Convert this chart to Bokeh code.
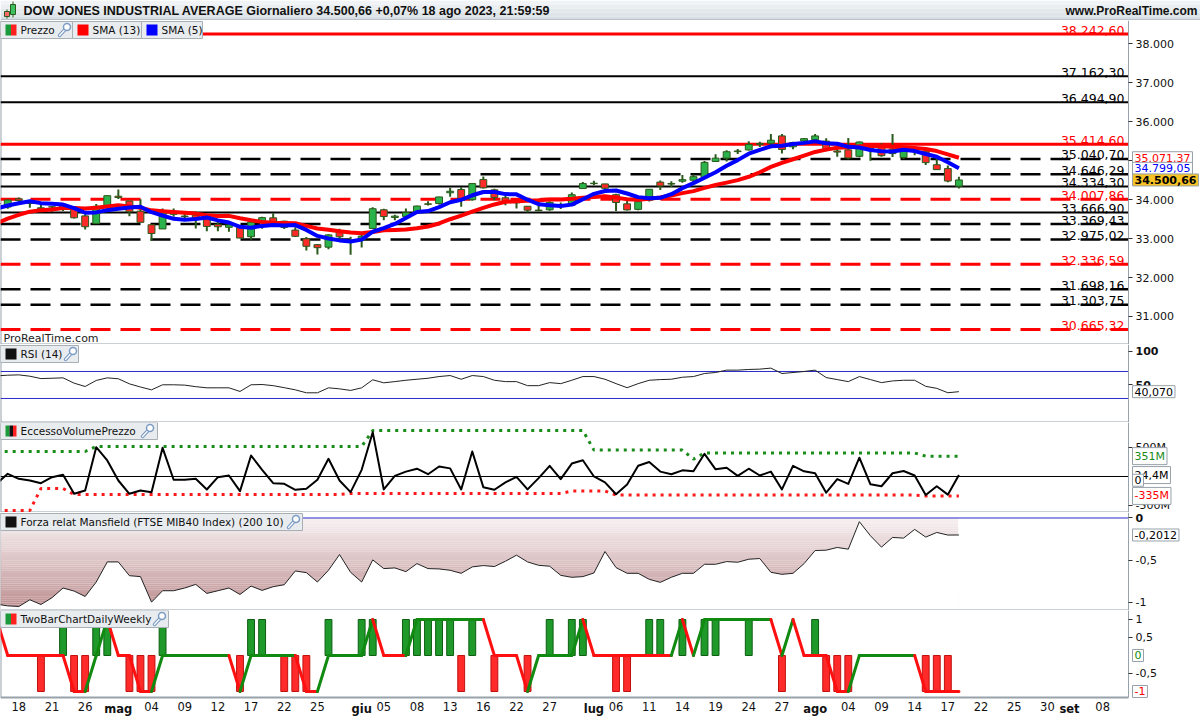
from bokeh.plotting import figure
from bokeh.layouts import column
from bokeh.models import Range1d, FixedTicker, LinearAxis, Label
from bokeh.embed import file_html
from bokeh.resources import INLINE
from bokeh.core.properties import value

# ------------------------------------------------------------------ DATA
dates = ["14/04", "17/04", "18/04", "19/04", "20/04", "21/04", "24/04", "25/04", "26/04", "27/04", "28/04",
         "01/05", "02/05", "03/05", "04/05", "05/05", "08/05", "09/05", "10/05", "11/05", "12/05", "15/05",
         "16/05", "17/05", "18/05", "19/05", "22/05", "23/05", "24/05", "25/05", "26/05", "30/05", "31/05",
         "01/06", "02/06", "05/06", "06/06", "07/06", "08/06", "09/06", "12/06", "13/06", "14/06", "15/06",
         "16/06", "20/06", "21/06", "22/06", "23/06", "26/06", "27/06", "28/06", "29/06", "30/06",
         "03/07", "05/07", "06/07", "07/07", "10/07", "11/07", "12/07", "13/07", "14/07", "17/07", "18/07",
         "19/07", "20/07", "21/07", "24/07", "25/07", "26/07", "27/07", "28/07", "31/07",
         "01/08", "02/08", "03/08", "04/08", "07/08", "08/08", "09/08", "10/08", "11/08", "14/08", "15/08",
         "16/08", "17/08", "18/08"]

opens = [33897, 33806, 34019, 33905, 33766, 33811, 33793, 33785, 33580, 33381, 33797,
         34085, 33962, 33701, 33353, 33245, 33679, 33575, 33597, 33505, 33363, 33287, 33280, 33046, 33406,
         33530, 33444, 33216, 32992, 32842, 32778, 33184, 32906,
         32951, 33257, 33736, 33539, 33567, 33667, 33888, 33899, 34172, 34256, 33994, 34510, 34247, 34043,
         33915, 33827, 33729, 33736, 33869, 33853, 34281,
         34407, 34400, 34123, 33889, 33747, 33981, 34446, 34411, 34470, 34494, 34559, 34976, 35061, 35244,
         35271, 35416, 35443, 35631, 35351, 35501,
         35535, 35497, 35244, 35273, 35108, 35312, 35370, 35295, 35077, 35246, 35239, 34891, 34792, 34341]
highs = [34082, 33999, 34050, 33940, 33916, 33825, 33909, 33785, 33620, 33884, 34104,
         34257, 33962, 34004, 33361, 33770, 33771, 33677, 33695, 33519, 33476, 33410, 33308, 33476, 33559,
         33647, 33452, 33289, 33038, 32860, 33111, 33247, 33042,
         33138, 33803, 33761, 33611, 33771, 33839, 33958, 34070, 34302, 34311, 34425, 34588, 34278, 34103,
         33958, 33828, 33944, 33953, 33922, 34182, 34450,
         34479, 34406, 34147, 34001, 33972, 34267, 34486, 34469, 34630, 34638, 34987, 35160, 35262, 35293,
         35493, 35480, 35679, 35679, 35482, 35579,
         35680, 35573, 35350, 35579, 35486, 35337, 35440, 35679, 35332, 35355, 35239, 35050, 34869, 34584]
lows = [33670, 33766, 33864, 33789, 33690, 33679, 33706, 33516, 33233, 33381, 33728,
        34014, 33571, 33411, 32937, 33245, 33556, 33508, 33255, 33186, 33185, 33172, 33008, 32970, 33249,
        33303, 33242, 33037, 32692, 32587, 32724, 32956, 32586,
        32767, 33257, 33470, 33465, 33544, 33639, 33849, 33869, 34072, 33816, 33965, 34280, 33980, 33850,
        33772, 33664, 33698, 33713, 33755, 33852, 34281,
        34367, 34226, 33705, 33719, 33723, 33950, 34242, 34319, 34429, 34449, 34540, 34959, 34972, 35168,
        35256, 35347, 35317, 35181, 35287, 35423,
        35487, 35239, 35094, 35031, 35083, 34992, 35094, 35093, 35037, 35134, 34883, 34761, 34443, 34281]
closes = [33886, 33987, 33977, 33897, 33787, 33809, 33876, 33531, 33302, 33827, 34098,
          34051, 33684, 33415, 33128, 33674, 33619, 33562, 33531, 33309, 33301, 33349, 33012, 33420, 33535,
          33427, 33286, 33056, 32800, 32765, 33093, 33043, 32908,
          33061, 33763, 33563, 33573, 33665, 33833, 33877, 34066, 34212, 33979, 34408, 34299, 34053, 33951,
          33947, 33727, 33714, 33927, 33853, 34122, 34408,
          34418, 34288, 33922, 33734, 33944, 34262, 34347, 34395, 34509, 34585, 34952, 35061, 35225, 35228,
          35411, 35438, 35520, 35283, 35459, 35560,
          35630, 35283, 35216, 35066, 35474, 35315, 35124, 35177, 35281, 35308, 34946, 34766, 34474, 34501]

sma13 = [33388.5, 33511.1, 33608.0, 33687.8, 33727.3, 33743.3, 33779.7, 33783.4, 33769.3, 33787.8,
         33819.5, 33850.6, 33824.0, 33787.8, 33721.7, 33698.4, 33677.0, 33659.7, 33638.3, 33594.7,
         33577.0, 33580.6, 33517.9, 33465.8, 33426.1, 33406.3, 33396.4, 33390.8, 33323.6, 33257.9,
         33221.8, 33184.3, 33153.5, 33135.0, 33166.8, 33209.2, 33221.0, 33231.0, 33262.2, 33307.7,
         33385.4, 33494.0, 33587.4, 33688.5, 33785.2, 33873.2, 33941.7, 33955.8, 33968.5, 33979.3,
         33999.5, 34001.0, 34019.8, 34046.2, 34062.0, 34085.8, 34048.4, 34004.9, 33996.5, 34020.5,
         34051.2, 34102.6, 34163.8, 34214.4, 34299.0, 34371.2, 34434.0, 34496.3, 34582.7, 34699.3,
         34836.7, 34939.7, 35031.8, 35125.1, 35220.1, 35279.6, 35328.2, 35336.9, 35368.7, 35375.6,
         35367.6, 35349.6, 35337.5, 35321.2, 35295.3, 35242.0, 35158.5, 35071.4]
sma5 = [33767.0, 33847.0, 33905.4, 33955.4, 33906.8, 33891.4, 33869.2, 33780.0, 33661.0, 33669.0,
        33726.8, 33761.8, 33792.4, 33815.0, 33675.2, 33590.4, 33504.0, 33479.6, 33502.8, 33539.0,
        33464.4, 33410.4, 33300.4, 33278.2, 33323.4, 33348.6, 33336.0, 33344.8, 33220.8, 33066.8,
        33000.0, 32951.4, 32921.8, 32974.0, 33173.6, 33267.6, 33373.6, 33525.0, 33679.4, 33702.2,
        33802.8, 33930.6, 33993.4, 34108.4, 34192.8, 34190.2, 34138.0, 34131.6, 33995.4, 33878.4,
        33853.2, 33833.6, 33868.6, 34004.8, 34145.6, 34217.8, 34231.6, 34154.0, 34061.2, 34030.0,
        34041.8, 34136.4, 34291.4, 34419.6, 34557.6, 34700.4, 34866.4, 35010.2, 35175.4, 35272.6,
        35364.4, 35376.0, 35422.2, 35452.0, 35490.4, 35443.0, 35429.6, 35351.0, 35333.8, 35270.8,
        35239.0, 35231.2, 35274.2, 35241.0, 35167.2, 35095.6, 34955.0, 34799.0]

rsi14 = [63.5, 64.5, 65.0, 63.0, 59.5, 60.0, 60.6, 52.7, 47.8, 56.7, 60.6, 59.2, 51.7, 47.0, 42.8, 50.3,
         50.3, 49.8, 47.5, 45.8, 45.8, 45.8, 40.4, 50.3, 50.7, 49.0, 46.0, 42.8, 38.4, 38.4, 45.8, 44.3,
         41.9, 45.8, 57.7, 53.2, 55.0,
         57.0, 58.5, 60.0, 62.5, 64.0, 58.5, 64.0, 62.5, 57.0, 55.0, 55.0, 49.0, 49.0, 53.5, 52.0, 57.0,
         62.5, 62.5, 58.5, 52.0, 46.0, 52.0, 57.0, 58.0, 58.5, 61.5, 62.5, 67.0, 68.5, 72.0, 72.0, 73.0,
         73.5, 75.0, 67.0, 68.5, 70.0, 72.0, 61.0, 58.0, 55.0, 62.5, 58.0, 53.5, 56.0, 57.0, 57.0, 48.0,
         45.0, 38.5, 40.07]

evp_osc = [-120, 46, -40, -69, -115, -12, 29, -299, -241, 505, 276, -69, -299, -241, -270, 494, -57, -57,
           -40, -224, -12, 17, -253, 362, 115, -115, -126, -229, -212, -57, 305, -69, -270, 115, 764, -224,
           11,
           84, 134, 39, 173, 140, -223, 430, -184, -229, -101, -6, -223, -28, 184, -45, 223, 279, 0, -101,
           -307, -140, 184, 251, 84, 39, 106, 89, 391, 123, 151, 11, 134, 17, 84, -223, 184, 89, 56, -279,
           -45, -128, 324, -134, -168, 56, 95, 17, -318, -168, -313, 24.4]
evp_upper = [431, 431, 431, 431, 431, 431, 431, 431, 431,
             517, 517, 517, 517, 517, 517, 517, 517, 517, 517, 517, 517, 517, 517, 517, 517, 517, 517, 517,
             517, 517, 517, 517, 517, 517,
             793, 793, 793, 793, 793, 793, 793, 793, 793, 793, 793, 793, 793, 793, 793, 793, 793, 793, 793, 793,
             455, 455, 455, 455, 455, 455, 455, 455, 455,
             300,
             405, 405, 405, 405, 405, 405, 405, 405, 405, 405, 405, 405, 405, 405, 405, 405, 405, 405, 405, 405,
             351, 351, 351, 351]
evp_lower = [-586, -586, -586, -586, -207, -207, -207,
             -310, -310, -310, -310, -310, -310, -310, -310, -310, -310, -310, -310, -310, -310, -310, -310,
             -310, -310, -310, -310, -310, -310, -310, -310, -310,
             -293, -293, -293, -293, -293, -293, -293, -293, -293, -293, -293, -293, -293, -293, -293, -293,
             -293, -293, -293, -293,
             -250, -250, -250, -250,
             -320, -320, -320, -320, -320, -320, -320, -320, -320, -320, -320, -320, -320, -320, -320, -320,
             -320, -320, -320, -320, -320, -320, -320, -320, -320, -320, -320, -320,
             -335, -335, -335, -335]

mansfield = [-1.02, -1.04, -1.048, -0.968, -1.024, -0.944, -0.829, -0.865, -0.929, -0.758, -0.520, -0.520,
             -0.683, -0.694, -0.996, -0.861, -0.861, -0.829, -0.786, -0.893, -0.861, -0.829, -0.905, -0.806,
             -0.857, -0.813, -0.790, -0.627, -0.647, -0.758, -0.619, -0.433, -0.643, -0.758, -0.496, -0.599,
             -0.591, -0.635, -0.540, -0.599, -0.603, -0.619, -0.655, -0.579, -0.563, -0.575,
             -0.512, -0.440, -0.520, -0.560, -0.571, -0.679, -0.702, -0.694, -0.651, -0.397, -0.587, -0.655,
             -0.655, -0.726, -0.762, -0.702, -0.655, -0.655, -0.548, -0.548, -0.516, -0.524, -0.488, -0.480,
             -0.643, -0.667, -0.655, -0.540, -0.385, -0.381, -0.349, -0.369, -0.044, -0.210, -0.345, -0.230,
             -0.238, -0.135, -0.226, -0.171, -0.202, -0.2012]

tb_line = [1, 0, 0, 0, 0, 0, 0, -1, -1, 0,
           1, 0, 0, -1, -1, 0, 0, 0, 0, 0,
           0, 0, -1, 0, 0, 0, 0, 0, -1, -1,
           0, 0, 0, 0, 1, 0, 0, 0, 1, 1,
           1, 1, 1, 1, 1, 0, 0, 0, -1, 0,
           0, 0, 0, 1, 0, 0, 0, 0, 0, 0,
           0, 0, 1, 0, 1, 1, 1, 1, 1, 1,
           1, 0, 1, 0, 0, 0, -1, -1, 0, 0,
           0, 0, 0, 0, -1, -1, -1, -1]
tb_state = ("rrrrrrrrrg" "grrrrggggg" "ggrgggggrr" "gggggrrrgg" "gggggrrrrg"
            "ggggrrrrrr" "rrgrgggggg" "grgrrrrrgg" "ggggrrrr")
tb_green_days = [4, 7, 8, 13, 21, 22, 28, 31, 32, 35, 36, 37, 38, 39, 41, 48, 50, 51, 57, 58, 60, 62, 63,
                 66, 72]
tb_red_days = [2, 5, 6, 10, 11, 12, 20, 24, 25, 26, 40, 43, 46, 54, 55, 69, 73, 74, 75, 82, 83, 84]

levels = [38242.60, 37162.30, 36494.90, 35414.60, 35040.70, 34646.29, 34334.30, 34007.86, 33666.90,
          33369.43, 32975.02, 32336.59, 31698.16, 31303.75, 30665.32]
level_labels = ["38.242,60", "37.162,30", "36.494,90", "35.414,60", "35.040,70", "34.646,29", "34.334,30",
                "34.007,86", "33.666,90", "33.369,43", "32.975,02", "32.336,59", "31.698,16", "31.303,75",
                "30.665,32"]
level_kind = ["rs", "ks", "ks", "rs", "kd", "kd", "ks", "rd", "ks", "kd", "kd", "rd", "kd", "kd", "rd"]

price_ticks = [31000, 32000, 33000, 34000, 35000, 36000, 37000, 38000]
price_tick_labels = ["31.000", "32.000", "33.000", "34.000", "35.000", "36.000", "37.000", "38.000"]

xtick_pos = [0, 3, 6, 12, 15, 18, 21, 24, 27, 33, 36, 39, 42, 45, 48, 54, 57, 60, 63, 66, 69, 75, 78, 81,
             84, 87, 90, 93, 98]
xtick_labels = ["18", "21", "26", "04", "09", "12", "17", "22", "25", "05", "08", "13", "16", "22", "27",
                "06", "11", "14", "19", "24", "27", "04", "09", "14", "17", "22", "25", "30", "08"]
month_pos = [9, 31, 52, 72, 95]
month_labels = ["mag", "giu", "lug", "ago", "set"]

title_text = "DOW JONES INDUSTRIAL AVERAGE Giornaliero 34.500,66 +0,07% 18 ago 2023, 21:59:59"

N = len(dates)
for arr in (opens, highs, lows, closes, sma13, sma5, rsi14, evp_osc, evp_upper, evp_lower, mansfield,
            tb_line, tb_state):
    assert len(arr) == N, len(arr)
xs = [i - 2 for i in range(N)]

# ------------------------------------------------------------------ LAYOUT
FONT = "DejaVu Sans"
TW = 1200            # total width
AX = 1128            # x pixel of the right axis line
PXD = 11.06          # pixels per trading day
X0 = -18.3 / PXD     # data x at left edge
X1 = X0 + AX / PXD   # data x at the axis line
XE = X0 + TW / PXD   # data x at right edge of page
XR = Range1d(X0, XE)
GRAYLINE = "#98a2aa"
YR = {}


def fig(fh, ylo, yhi, panel_bottom=None):
    p = figure(frame_width=TW, frame_height=fh, x_range=XR, y_range=Range1d(ylo, yhi),
               output_backend="svg", toolbar_location=None,
               x_axis_location=None, y_axis_location=None,
               min_border_left=0, min_border_right=0, min_border_top=0, min_border_bottom=0,
               outline_line_color=None, background_fill_color="white", border_fill_color="white")
    p.xgrid.visible = False
    p.ygrid.visible = False
    YR[p.id] = (ylo, yhi, fh)
    pb = ylo if panel_bottom is None else panel_bottom
    p.segment(x0=[X0, X0], y0=[pb, pb], x1=[X1, X0], y1=[pb, yhi], line_color=GRAYLINE, line_width=2)
    return p


def pxx(px):
    return X0 + px / PXD


def pxy(p, py):
    ylo, yhi, fh = YR[p.id]
    return yhi - py * (yhi - ylo) / fh


def raxis(p, ticks, labels, bold=False, line=True):
    ax = LinearAxis(fixed_location=X1, ticker=FixedTicker(ticks=ticks),
                    major_label_overrides=dict(zip(ticks, labels)),
                    axis_line_color=GRAYLINE if line else None, axis_line_width=1,
                    major_tick_line_color="#333333",
                    major_tick_in=0, major_tick_out=4, minor_tick_line_color=None,
                    major_label_standoff=3, major_label_text_font=FONT,
                    major_label_text_font_size="11px", major_label_text_color="#111111",
                    major_label_text_font_style="bold" if bold else "normal")
    p.add_layout(ax, "right")


def tag(p, yv, text, color="black", bg="white", bold=False):
    p.add_layout(Label(x=X1, y=yv, x_offset=4, text=text, text_font=FONT, text_font_size="11px",
                       text_color=color, text_baseline="middle", text_align="left",
                       background_fill_color=bg, border_line_color="#97a1a9", padding=2,
                       text_font_style="bold" if bold else "normal"))


def wrench(p, px, top):
    p.segment(x0=[pxx(px + 2)], y0=[pxy(p, top + 14)], x1=[pxx(px + 8)], y1=[pxy(p, top + 7.5)],
              line_color="#7d9cc4", line_width=3.5, line_cap="round")
    p.segment(x0=[pxx(px + 2)], y0=[pxy(p, top + 14)], x1=[pxx(px + 8)], y1=[pxy(p, top + 7.5)],
              line_color="#ffffff", line_width=1.2, line_cap="round")
    p.scatter(x=[pxx(px + 9.5)], y=[pxy(p, top + 5.5)], size=7, marker="circle",
              fill_color="#ffffff", line_color="#7d9cc4", line_width=1.5)


def legend(p, segs, top=1, h=17):
    for (l, r, squares, text, tx, wx) in segs:
        p.quad(left=[pxx(l)], right=[pxx(r)], top=[pxy(p, top)], bottom=[pxy(p, top + h)],
               fill_color="#e8ecef", line_color="#a7b0b7", line_width=1)
        for (sl, sr, col) in squares:
            p.quad(left=[pxx(sl)], right=[pxx(sr)], top=[pxy(p, top + 3)], bottom=[pxy(p, top + h - 3)],
                   fill_color=col, line_color=None)
        p.text(x=[pxx(tx)], y=[pxy(p, top + h / 2)], text=[text], text_baseline="middle",
               text_font=value(FONT), text_font_size="10.5px", text_color="#111111")
        if wx is not None:
            wrench(p, wx, top)


# ---------------- header
ph = figure(frame_width=TW, frame_height=20, x_range=Range1d(0, TW), y_range=Range1d(20, 0),
            output_backend="svg", toolbar_location=None, x_axis_location=None, y_axis_location=None,
            min_border_left=0, min_border_right=0, min_border_top=0, min_border_bottom=0,
            outline_line_color=None, border_fill_color="white")
ph.xgrid.visible = False
ph.ygrid.visible = False
band_cols = ["#f1f4f6", "#eaeef1", "#e4e9ec", "#dee4e8", "#d8dfe4"]
ph.quad(left=[0] * 5, right=[TW] * 5, top=[0, 4, 8, 12, 16], bottom=[4, 8, 12, 16, 20],
        fill_color=band_cols, line_color=None)
ph.segment(x0=[0], y0=[19.5], x1=[TW], y1=[19.5], line_color=GRAYLINE)
ph.segment(x0=[6.5, 12.5], y0=[9, 1], x1=[6.5, 12.5], y1=[18, 17], line_color="#2a5e1e", line_width=1)
ph.quad(left=[4, 10], right=[9, 15], top=[11, 4], bottom=[16, 14], fill_color=["#ff6a6a", "#3cc060"],
        line_color="#2a5e1e")
ph.text(x=[23], y=[10.5], text=[title_text], text_baseline="middle", text_font=value("Liberation Sans"),
        text_font_style="bold", text_font_size="12.5px", text_color="#111111")
ph.text(x=[TW - 3], y=[10.5], text=["www.ProRealTime.com"], text_baseline="middle", text_align="right",
        text_font=value("Liberation Sans"), text_font_style="bold", text_font_size="12px",
        text_color="#111111")

# ---------------- price panel  (y 20..344)
pp = fig(324, 30282, 38590)
kinds = {"rs": ("#ff0000", 3, "solid"), "rd": ("#ff0000", 3, "20 10"),
         "ks": ("#000000", 2, "solid"), "kd": ("#000000", 2.5, "20 10")}
for k, (col, lw, dash) in kinds.items():
    ys = [lv for lv, kk in zip(levels, level_kind) if kk == k]
    pp.segment(x0=[X0] * len(ys), y0=ys, x1=[X1] * len(ys), y1=ys, line_color=col, line_width=lw,
               line_dash=dash)

WICK = "#2a5a1c"
pp.segment(x0=xs, y0=lows, x1=xs, y1=highs, line_color=WICK, line_width=2)
up = [i for i in range(N) if closes[i] >= opens[i]]
dn = [i for i in range(N) if closes[i] < opens[i]]
pp.vbar(x=[xs[i] for i in up], top=[closes[i] for i in up], bottom=[opens[i] for i in up], width=0.62,
        fill_color="#2bb34b", line_color=WICK, line_width=1)
pp.vbar(x=[xs[i] for i in dn], top=[opens[i] for i in dn], bottom=[closes[i] for i in dn], width=0.62,
        fill_color="#ff2a2a", line_color=WICK, line_width=1)
pp.line(xs, sma13, line_color="#ff0000", line_width=4, line_join="round")
pp.line(xs, sma5, line_color="#0000ff", line_width=4, line_join="round")

lab_cols = ["#ff0000" if k[0] == "r" else "#000000" for k in level_kind]
pp.text(x=[X1] * len(levels), y=levels, text=level_labels, text_align="right", text_baseline="alphabetic",
        x_offset=-4, y_offset=-4, text_font=value(FONT), text_font_size="12.5px", text_color=lab_cols)
pp.text(x=[pxx(3)], y=[pxy(pp, 318)], text=["ProRealTime.com"], text_baseline="middle",
        text_font=value(FONT), text_font_size="11px", text_color="#222222")
legend(pp, [(0, 72, [(5, 10.5, "#1a9a3a"), (10.5, 16, "#ff2020")], "Prezzo", 20, 57),
            (72, 141, [(77, 88, "#ff0000")], "SMA (13)", 92, None),
            (141, 202, [(146, 157, "#0000ff")], "SMA (5)", 161, None)])
raxis(pp, price_ticks, price_tick_labels)
tag(pp, 35071.37, "35.071,37", color="#ff0000")
tag(pp, 34799.05, "34.799,05", color="#0000ff")
tag(pp, 34500.66, "34.500,66", color="black", bg="#f7c325", bold=True)

# ---------------- RSI panel  (y 344..422)
pr = fig(78, -5.6, 110)
pr.segment(x0=[X0, X0], y0=[70, 30], x1=[X1, X1], y1=[70, 30], line_color="#2b2bcc", line_width=1)
pr.line(xs, rsi14, line_color="#222222", line_width=1)
legend(pr, [(0, 78, [(5, 16, "#111111")], "RSI (14)", 20, 63)])
raxis(pr, [50, 100], ["50", "100"], bold=True)
tag(pr, 40.07, "40,070")

# ---------------- Volume excess panel  (y 422..512)
pv = fig(90, -621, 931)
pv.segment(x0=[X0], y0=[0], x1=[X1], y1=[0], line_color="#000000", line_width=1)
pv.line(xs, evp_upper, line_color="#1a8c1a", line_width=3, line_dash="3 5")
pv.line(xs, evp_lower, line_color="#ff1a1a", line_width=3, line_dash="3 5")
pv.line(xs, evp_osc, line_color="#000000", line_width=2, line_join="round")
legend(pv, [(0, 157, [(5, 9, "#1a9a3a"), (9, 12.5, "#111111"), (12.5, 16, "#ff2020")],
             "EccessoVolumePrezzo", 20, 140)], top=0)
raxis(pv, [-500, 500], ["-500M", "500M"])
tag(pv, 351, "351M", color="#1a8c1a")
tag(pv, 24.4, "24,4M")
tag(pv, -65, "0")
tag(pv, -335, "-335M", color="#ff0000")

# ---------------- Mansfield panel  (y 512..610)
pm = fig(98, -1.095, 0.065)
nb = 44
c0, c1 = (247, 241, 242), (188, 140, 142)
bcols = []
for k in range(nb):
    t = (k + 0.5) / nb
    bcols.append("#%02x%02x%02x" % tuple(int(round(a + (b - a) * t)) for a, b in zip(c0, c1)))
pm.quad(left=[X0] * nb, right=[xs[-1]] * nb, top=[-k * 0.025 for k in range(nb)],
        bottom=[-(k + 1) * 0.025 for k in range(nb)], fill_color=bcols, line_color=None)
pm.varea(x=xs, y1=mansfield, y2=[-1.2] * N, fill_color="white")
pm.quad(left=[xs[-1] - 0.06], right=[X1 - 0.05], top=[0.06], bottom=[-1.09], fill_color="white",
        line_color=None)
pm.segment(x0=[X0, X0], y0=[0, -1.095], x1=[X1, X1], y1=[0, -1.095], line_color=["#2b2bcc", GRAYLINE],
           line_width=[1, 2])
pm.line(xs, mansfield, line_color="#222222", line_width=1)
legend(pm, [(0, 302, [(5, 16, "#111111")], "Forza relat Mansfield (FTSE MIB40 Index) (200 10)", 20, 286)])
raxis(pm, [-0.5, -1], ["-0,5", "-1"])
raxis(pm, [0], ["0"], bold=True, line=False)
tag(pm, -0.2012, "-0,2012")

# ---------------- TwoBar panel (y 610..697) + x axis (697..720)
TB_BOTTOM = -1.167
pt = fig(110, -1.806, 1.25, panel_bottom=TB_BOTTOM)
pt.vbar(x=tb_green_days, top=1, bottom=0, width=0.62, fill_color="#1f9a2a", line_color="#0d5e12")
pt.vbar(x=tb_red_days, top=0, bottom=-1, width=0.62, fill_color="#ff2a2a", line_color="#c01010")
seg_cols = ["#118a11" if c == "g" else "#ff1010" for c in tb_state[1:]]
pt.segment(x0=xs[:-1], y0=tb_line[:-1], x1=xs[1:], y1=tb_line[1:], line_color=seg_cols, line_width=3,
           line_cap="round")
legend(pt, [(0, 168, [(5, 10.5, "#1a9a3a"), (10.5, 16, "#ff2020")], "TwoBarChartDailyWeekly", 20, 152)],
       top=0)
ax_tb = LinearAxis(fixed_location=X1, ticker=FixedTicker(ticks=[1, 0.5, -0.5]),
                   major_label_overrides={1: "1", 0.5: "0,5", -0.5: "-0,5"},
                   axis_line_color=None, major_tick_line_color="#333333", major_tick_in=0, major_tick_out=4,
                   minor_tick_line_color=None, major_label_standoff=3, major_label_text_font=FONT,
                   major_label_text_font_size="11px", major_label_text_color="#111111")
pt.add_layout(ax_tb, "right")
pt.segment(x0=[X1], y0=[TB_BOTTOM], x1=[X1], y1=[1.25], line_color=GRAYLINE, line_width=1)
tag(pt, 0, "0", color="#118a11")
tag(pt, -1, "-1", color="#ff0000")

for pos, labs, style in ((xtick_pos, xtick_labels, "normal"), (month_pos, month_labels, "bold")):
    xa = LinearAxis(fixed_location=TB_BOTTOM, ticker=FixedTicker(ticks=pos),
                    major_label_overrides=dict(zip(pos, labs)),
                    axis_line_color=None, major_tick_line_color=None, major_tick_in=0, major_tick_out=0,
                    minor_tick_line_color=None, major_label_standoff=5, major_label_text_font=FONT,
                    major_label_text_font_size="11.5px", major_label_text_color="#111111",
                    major_label_text_font_style=style)
    pt.add_layout(xa, "below")

layout = column(ph, pp, pr, pv, pm, pt, spacing=0)
open("out.html", "w").write(file_html(layout, INLINE))
